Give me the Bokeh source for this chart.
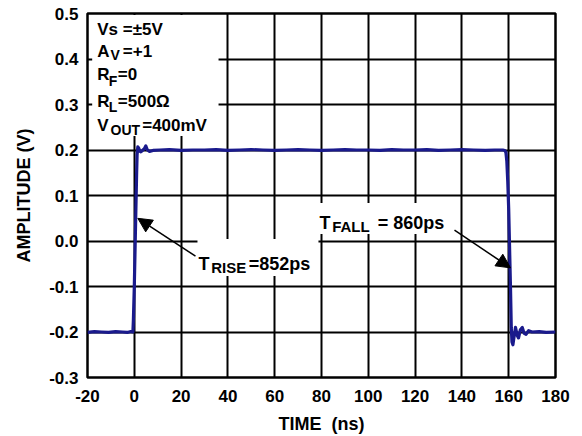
from bokeh.plotting import figure
from bokeh.models import Range1d, FixedTicker, NumeralTickFormatter, Label, Arrow, NormalHead
from bokeh.embed import file_html
from bokeh.resources import INLINE

# ---------------- data ----------------
time_ns = [-20, -17, -14, -11, -8, -5, -3, -1.5, -0.8, -0.6,
           -0.4, 0.0, 0.4, 0.8, 1.0, 1.2, 1.5, 1.9, 2.4, 2.8,
           3.5, 4.3, 4.9, 5.6, 6.5, 8, 11, 15, 20, 25,
           30, 35, 40, 45, 50, 55, 60, 65, 70, 75,
           80, 85, 90, 95, 100, 105, 110, 115, 120, 125,
           130, 135, 140, 145, 150, 154, 157.5, 158.3, 158.8, 159.2,
           159.6, 160.0, 160.4, 160.8, 161.1, 161.4, 161.8, 162.3, 162.9, 163.6,
           164.2, 165.0, 165.8, 166.6, 167.4, 168.5, 170, 173, 176, 180]
amplitude_v = [-0.201, -0.199, -0.200, -0.201, -0.199, -0.200, -0.201, -0.199, -0.200, -0.200,
               -0.175, -0.100, 0.000, 0.100, 0.150, 0.190, 0.207, 0.204, 0.197, 0.196,
               0.199, 0.203, 0.209, 0.200, 0.197, 0.199, 0.200, 0.201, 0.199, 0.200,
               0.200, 0.201, 0.199, 0.200, 0.201, 0.200, 0.199, 0.200, 0.201, 0.200,
               0.199, 0.200, 0.201, 0.200, 0.200, 0.199, 0.201, 0.200, 0.200, 0.201,
               0.199, 0.200, 0.201, 0.200, 0.199, 0.200, 0.200, 0.199, 0.195, 0.175,
               0.130, 0.070, -0.020, -0.110, -0.190, -0.222, -0.228, -0.210, -0.190, -0.207,
               -0.213, -0.195, -0.190, -0.203, -0.205, -0.197, -0.200, -0.199, -0.201, -0.200]
x_ticks = [-20, 0, 20, 40, 60, 80, 100, 120, 140, 160, 180]
y_ticks = [-0.3, -0.2, -0.1, 0.0, 0.1, 0.2, 0.3, 0.4, 0.5]

FONT = "Liberation Sans"
LINE_COLOR = "#1a1a8c"

p = figure(width=582, height=436, output_backend="svg", toolbar_location=None,
           x_range=Range1d(-20, 180), y_range=Range1d(-0.3, 0.5),
           min_border_left=87, min_border_right=27, min_border_top=13, min_border_bottom=59,
           x_axis_label="TIME\u00a0\u00a0(ns)", y_axis_label="AMPLITUDE (V)")

p.outline_line_color = "black"
p.outline_line_width = 2.5
p.outline_line_alpha = 1

for g, t in ((p.xgrid, x_ticks), (p.ygrid, y_ticks)):
    g.ticker = FixedTicker(ticks=t)
    g.grid_line_color = "black"
    g.grid_line_width = 2
    g.grid_line_alpha = 1

p.xaxis.ticker = FixedTicker(ticks=x_ticks)
p.yaxis.ticker = FixedTicker(ticks=y_ticks)
p.xaxis.formatter = NumeralTickFormatter(format="0")
p.yaxis.formatter = NumeralTickFormatter(format="0.0")

for ax in (p.xaxis[0], p.yaxis[0]):
    ax.axis_line_color = None
    ax.major_tick_line_color = None
    ax.minor_tick_line_color = None
    ax.major_tick_out = 0
    ax.major_tick_in = 0
    ax.major_label_text_font = FONT
    ax.major_label_text_font_style = "bold"
    ax.major_label_text_font_size = "17px"
    ax.major_label_text_color = "black"
    ax.axis_label_text_font = FONT
    ax.axis_label_text_font_style = "bold"
    ax.axis_label_text_font_size = "18px"
    ax.axis_label_text_color = "black"

p.xaxis.major_label_standoff = 12
p.xaxis.axis_label_standoff = 9
p.yaxis.major_label_standoff = 9
p.yaxis.axis_label_standoff = 12

# white backgrounds behind the annotation texts (data units)
p.quad(left=[-18.0, 27.0, 77.0], right=[36.0, 78.7, 136.0],
       top=[0.4965, 0.0044, 0.0837], bottom=[0.231, -0.077, 0.0154],
       fill_color="white", line_color=None)

p.line(time_ns, amplitude_v, line_color=LINE_COLOR, line_width=3.2, line_join="round")


def lab(x, y, text, size):
    p.add_layout(Label(x=x, y=y, text=text, text_font=FONT, text_font_style="bold",
                       text_font_size=size, text_color="black", text_baseline="alphabetic",
                       text_align="left"))

MAIN = "17px"
SUB = "14px"
# condition block
lab(-15.85, 0.464, "Vs =\u00b15V", MAIN)
lab(-15.85, 0.417, "A", MAIN)
lab(-10.17, 0.4097, "V", SUB)
lab(-4.91, 0.417, "=+1", MAIN)
lab(-15.85, 0.3656, "R", MAIN)
lab(-10.9, 0.3526, "F", SUB)
lab(-7.05, 0.3656, "=0", MAIN)
lab(-15.85, 0.3068, "R", MAIN)
lab(-10.9, 0.295, "L", SUB)
lab(-7.05, 0.3068, "=500\u03a9", MAIN)
lab(-15.85, 0.2532, "V", MAIN)
lab(-10.17, 0.2444, "OUT", SUB)
lab(3.38, 0.2532, "=400mV", MAIN)

BIG = "18px"
BSUB = "15px"
lab(27.44, -0.0516, "T", BIG)
lab(32.86, -0.0591, "RISE", BSUB)
lab(48.93, -0.0516, "=852ps", BIG)
lab(79.15, 0.0401, "T", BIG)
lab(84.57, 0.0328, "FALL", BSUB)
lab(104.06, 0.0401, "= 860ps", BIG)

for xs, ys, xe, ye in ((26.15, -0.0333, 1.5, 0.0498), (136.84, 0.024, 160.77, -0.059)):
    p.add_layout(Arrow(end=NormalHead(size=14, fill_color="black", line_color="black", line_width=1),
                       x_start=xs, y_start=ys, x_end=xe, y_end=ye,
                       line_color="black", line_width=1.5))

open("out.html", "w").write(file_html(p, INLINE))
